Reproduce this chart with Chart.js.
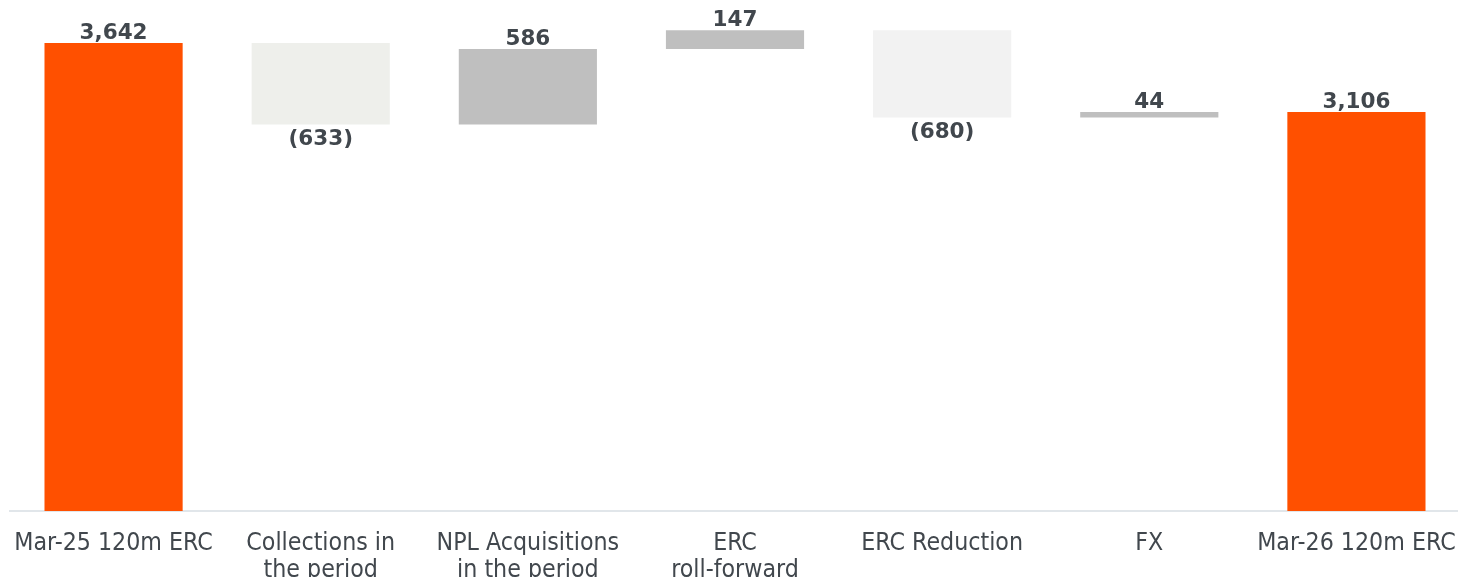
<!DOCTYPE html>
<html>
<head>
<meta charset="utf-8">
<script src="https://cdn.jsdelivr.net/npm/chart.js@4.4.1/dist/chart.umd.min.js"></script>
<style>
    html, body { margin: 0; padding: 0; background: #ffffff; overflow: hidden; }
    #wrap { position: relative; width: 1460px; height: 600px; }
</style>
</head>
<body>
<div id="wrap"><canvas id="erc"></canvas></div>
<script>
// ------------------------------------------------------------------
// DATA
// ------------------------------------------------------------------
const CATEGORIES = [
    "Mar-25 120m ERC",
    ["Collections in", "the period"],
    ["NPL Acquisitions", "in the period"],
    ["ERC", "roll-forward"],
    "ERC Reduction",
    "FX",
    "Mar-26 120m ERC"
];

const CHANGES  = [3642, -633, 586, 147, -680, 44, 3106];
const IS_TOTAL = [true, false, false, false, false, false, true];

const Y_MIN = 0;
const Y_MAX = 3977;

// ------------------------------------------------------------------
// STYLE
// ------------------------------------------------------------------
const BAR_COLORS = ["#ff5000", "#eeefeb", "#bfbfbf", "#bfbfbf", "#f2f2f2", "#bfbfbf", "#ff5000"];
const TEXT_COLOR = "#41474d";

// running totals -> floating bars
function buildFloating() {
    let run = 0;
    return CHANGES.map((v, i) => {
        if (IS_TOTAL[i]) {
            run = v;
            return [0, v];
        }
        const start = run;
        run += v;
        return [start, run];
    });
}

function formatValue(v) {
    const s = Math.abs(v).toLocaleString("en-US");
    return v < 0 ? "(" + s + ")" : s;
}

// ------------------------------------------------------------------
// value labels above / below the bars
// ------------------------------------------------------------------
const valueLabels = {
    id: "valueLabels",
    afterDatasetsDraw(chart) {
        const ctx = chart.ctx;
        const meta = chart.getDatasetMeta(0);
        ctx.save();
        ctx.font = "bold 21.5px 'DejaVu Sans'";
        ctx.fillStyle = TEXT_COLOR;
        ctx.textAlign = "center";
        meta.data.forEach((bar, i) => {
            const top = Math.min(bar.y, bar.base);
            const bottom = Math.max(bar.y, bar.base);
            const v = CHANGES[i];
            if (v < 0) {
                ctx.textBaseline = "top";
                ctx.fillText(formatValue(v), bar.x, bottom + 4);
            } else {
                ctx.textBaseline = "alphabetic";
                ctx.fillText(formatValue(v), bar.x, top - 4);
            }
        });
        ctx.restore();
    }
};

// ------------------------------------------------------------------
const ctx = document.getElementById("erc").getContext("2d");

new Chart(ctx, {
    type: "bar",
    data: {
        labels: CATEGORIES,
        datasets: [{
            data: buildFloating(),
            backgroundColor: BAR_COLORS,
            borderWidth: 0,
            categoryPercentage: 1,
            barPercentage: 0.667
        }]
    },
    options: {
        responsive: true,
        maintainAspectRatio: false,
        animation: false,
        layout: { padding: { left: 10, right: 0, top: 0, bottom: 0 } },
        plugins: {
            legend: { display: false },
            tooltip: { enabled: false }
        },
        scales: {
            x: {
                grid: { display: false, drawTicks: false },
                border: { display: true, color: "#e1e6ea", width: 2 },
                ticks: {
                    color: TEXT_COLOR,
                    font: { family: "'DejaVu Sans Condensed'", size: 24.7, lineHeight: 1.1 },
                    padding: 19,
                    maxRotation: 0,
                    autoSkip: false
                },
                afterFit(scale) {
                    scale.height = 89;
                    scale.paddingLeft = 0;
                    scale.paddingRight = 0;
                }
            },
            y: {
                display: false,
                min: Y_MIN,
                max: Y_MAX
            }
        }
    },
    plugins: [valueLabels]
});
</script>
</body>
</html>
